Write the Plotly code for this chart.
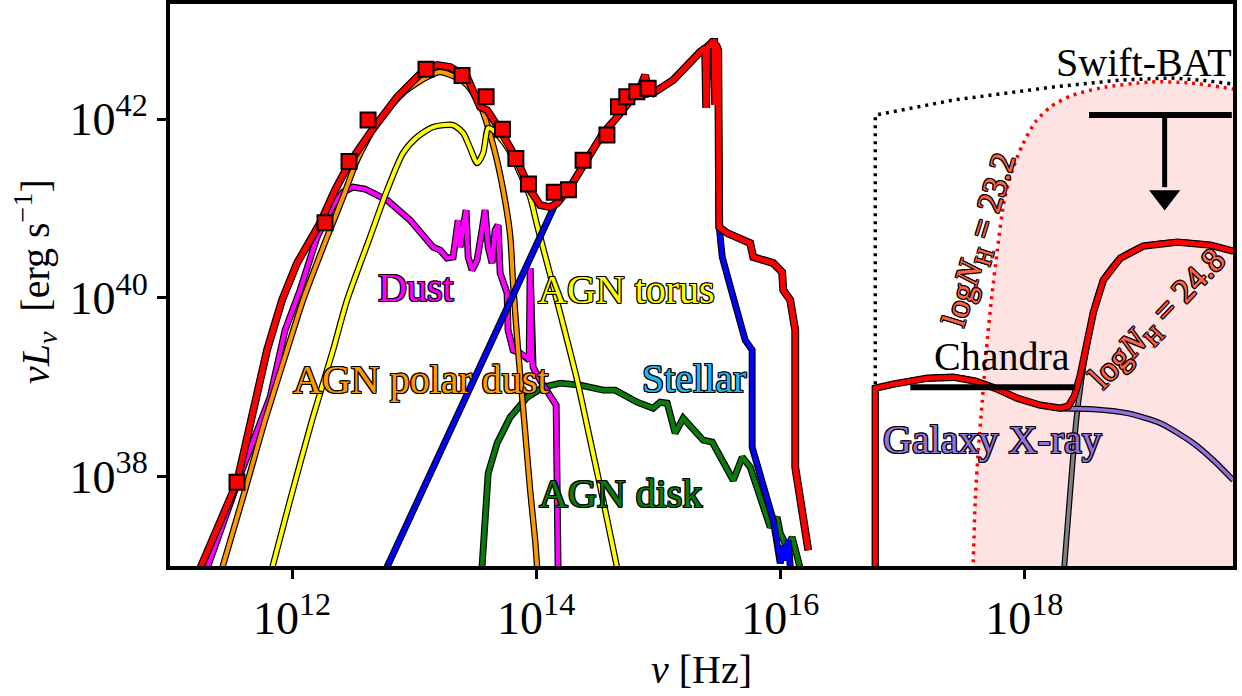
import numpy as np
import plotly.graph_objects as go

FONT = "Liberation Serif"

# ---------------- data (log10 nu [Hz], log10 nuL_nu [erg/s]) ----------------
PHOT_LOGNU = [11.549, 12.270, 12.467, 12.623, 13.098, 13.393, 13.590, 13.724, 13.834,
              13.937, 14.148, 14.265, 14.385, 14.580, 14.675, 14.743, 14.825, 14.918]
PHOT_LOGL = [37.938, 40.843, 41.527, 41.991, 42.559, 42.490, 42.252, 41.887, 41.562,
             41.275, 41.182, 41.211, 41.540, 41.823, 42.140, 42.252, 42.308, 42.346]

TOTAL_LOGNU = [11.240, 11.549, 11.795, 11.918, 12.041, 12.230, 12.352, 12.475, 12.656, 12.861,
               13.049, 13.189, 13.295, 13.434, 13.541, 13.598, 13.705, 13.844, 13.951, 14.033,
               14.115, 14.172, 14.279, 14.418, 14.549, 14.664, 14.795, 14.852, 14.893, 14.918,
               14.959, 15.123, 15.344, 15.385, 15.393, 15.402, 15.443, 15.459, 15.467, 15.475,
               15.492, 15.500, 15.566, 15.754, 15.779, 15.943, 16.016, 16.025, 16.082, 16.123,
               16.123, 16.230]
TOTAL_LOGL = [36.95, 37.938, 39.416, 39.976, 40.390, 40.838, 41.207, 41.521, 41.879, 42.249,
              42.506, 42.607, 42.585, 42.473, 42.137, 42.103, 41.879, 41.543, 41.207, 41.039,
              41.017, 41.062, 41.241, 41.543, 41.846, 42.025, 42.249, 42.350, 42.495, 42.327,
              42.294, 42.439, 42.753, 42.798, 42.126, 42.798, 42.865, 42.865, 42.159, 42.831,
              42.775, 40.793, 40.726, 40.614, 40.457, 40.390, 40.289, 40.088, 39.976, 39.640,
              38.106, 37.176]

STELLAR_LOGNU = [12.765, 14.172, 14.279, 14.418, 14.549, 14.664, 14.795, 14.959, 15.123, 15.344,
                 15.443, 15.475, 15.492, 15.500, 15.525, 15.615, 15.713, 15.770, 15.770, 15.943,
                 15.975, 16.000, 16.025, 16.049, 16.066, 16.085]
STELLAR_LOGL = [36.95, 41.095, 41.241, 41.543, 41.846, 42.025, 42.249, 42.294, 42.439, 42.753,
                42.865, 42.831, 42.775, 40.793, 40.457, 40.009, 39.528, 39.416, 38.330, 37.512,
                37.288, 37.030, 37.232, 37.064, 37.288, 36.95]

DUST_LOGNU = [11.298, 11.590, 11.820, 11.943, 12.066, 12.205, 12.336, 12.418, 12.500, 12.598,
              12.779, 12.967, 13.156, 13.213, 13.270, 13.320, 13.361, 13.377, 13.426, 13.443,
              13.475, 13.516, 13.557, 13.582, 13.607, 13.639, 13.664, 13.689, 13.705, 13.730,
              13.762, 13.770, 13.811, 13.869, 13.926, 13.943, 13.951, 13.967, 13.975, 14.033,
              14.164, 14.180]
DUST_LOGL = [36.95, 38.072, 38.890, 39.640, 40.088, 40.681, 41.039, 41.185, 41.241, 41.219,
             41.095, 40.871, 40.569, 40.535, 40.446, 40.457, 40.871, 40.569, 40.983, 40.457,
             40.312, 40.423, 40.759, 40.983, 40.569, 40.390, 40.759, 40.815, 40.278, 40.166,
             40.054, 39.640, 39.416, 39.382, 39.337, 39.304, 40.334, 39.304, 39.225, 39.080,
             38.800, 36.95]

POLAR_LOGNU = [11.422, 11.615, 11.779, 11.959, 12.090, 12.287, 12.418, 12.533, 12.697, 12.910,
               13.107, 13.213, 13.352, 13.434, 13.541, 13.648, 13.730, 13.787, 13.811, 13.852,
               13.902, 13.951, 13.992, 14.010]
POLAR_LOGL = [36.95, 37.848, 38.632, 39.416, 39.976, 40.681, 41.129, 41.543, 41.958, 42.294,
              42.473, 42.529, 42.462, 42.383, 42.159, 41.711, 41.207, 40.703, 40.166, 39.416,
              38.632, 37.848, 37.288, 36.95]

TORUS_LOGNU = [11.832, 11.984, 12.164, 12.336, 12.451, 12.639, 12.779, 12.910, 13.025, 13.156,
               13.320, 13.402, 13.459, 13.516, 13.566, 13.607, 13.648, 13.762, 13.869, 13.951,
               14.008, 14.090, 14.197, 14.336, 14.443, 14.549, 14.668]
TORUS_LOGL = [36.95, 37.736, 38.632, 39.416, 39.976, 40.681, 41.207, 41.622, 41.801, 41.913,
              41.935, 41.846, 41.678, 41.510, 41.622, 41.902, 41.879, 41.689, 41.398, 41.129,
              40.815, 40.390, 39.830, 39.080, 38.408, 37.736, 36.95]

DISK_LOGNU = [13.555, 13.582, 13.607, 13.680, 13.787, 13.926, 14.057, 14.197, 14.361, 14.549,
              14.648, 14.828, 14.959, 15.016, 15.074, 15.139, 15.205, 15.369, 15.443, 15.615,
              15.689, 15.754, 15.836, 15.918, 15.975, 16.000, 16.057, 16.098, 16.168]
DISK_LOGL = [36.95, 37.591, 38.038, 38.374, 38.665, 38.889, 39.001, 39.046, 39.024, 38.968,
             38.968, 38.833, 38.766, 38.833, 38.822, 38.486, 38.654, 38.408, 38.386, 37.960,
             38.218, 38.106, 37.770, 37.434, 37.546, 37.367, 37.210, 37.322, 36.95]

# X-ray models
XTOT_LOGNU = [16.779, 16.779, 16.926, 17.205, 17.418, 17.598, 17.762, 17.943, 18.131, 18.295,
              18.361, 18.410, 18.459, 18.516, 18.566, 18.648, 18.787, 18.975, 19.254, 19.525, 19.713]
XTOT_LOGL = [36.95, 38.990, 39.035, 39.102, 39.113, 39.069, 38.990, 38.878, 38.800, 38.766,
             38.789, 38.901, 39.136, 39.494, 39.841, 40.200, 40.446, 40.580, 40.625, 40.591, 40.524]

GALX_LOGNU = [16.779, 16.926, 17.205, 17.418, 17.598, 17.762, 17.943, 18.131, 18.295, 18.566,
              18.844, 19.115, 19.385, 19.549, 19.713]
GALX_LOGL = [38.990, 39.035, 39.102, 39.113, 39.069, 38.990, 38.878, 38.800, 38.766, 38.755,
             38.710, 38.598, 38.374, 38.184, 37.960]

AGNX_LOGNU = [18.325, 18.377, 18.426, 18.467, 18.516, 18.566, 18.648, 18.787, 18.975, 19.254,
              19.525, 19.713]
AGNX_LOGL = [36.95, 37.848, 38.632, 39.080, 39.494, 39.841, 40.200, 40.446, 40.580, 40.625,
             40.591, 40.524]

NH232_LOGNU = [17.580, 17.598, 17.623, 17.656, 17.689, 17.730, 17.779, 17.836, 17.902, 17.984,
               18.090, 18.213, 18.377, 18.623, 19.033, 19.361, 19.713]
NH232_LOGL = [36.95, 37.736, 38.296, 38.856, 39.416, 39.976, 40.535, 41.095, 41.431, 41.711,
              41.969, 42.137, 42.260, 42.350, 42.417, 42.406, 42.338]

INTR_LOGNU = [16.779, 16.779, 17.418, 18.238, 18.787, 19.197, 19.443, 19.713]
INTR_LOGL = [39.035, 42.047, 42.215, 42.361, 42.439, 42.462, 42.439, 42.394]

CHANDRA_LOGNU = [17.066, 18.418]
CHANDRA_LOGL = 39.001
BAT_LOGNU = [18.53, 19.70]
BAT_LOGL = 42.047
ARROW_LOGNU = 19.15
ARROW_TIP_LOGL = 41.04

X_TICKS = [12, 14, 16, 18]
Y_TICKS = [38, 40, 42]


def p(v):
    return 10 ** np.asarray(v, dtype=float)


fig = go.Figure()


def outlined(lx, ly, color, width, outline=1.2, shape="linear"):
    fig.add_trace(go.Scatter(x=p(lx), y=p(ly), mode="lines", hoverinfo="skip",
                             line=dict(color="black", width=width + 2 * outline,
                                       shape=shape, smoothing=0.7)))
    fig.add_trace(go.Scatter(x=p(lx), y=p(ly), mode="lines", hoverinfo="skip",
                             line=dict(color=color, width=width, shape=shape, smoothing=0.7)))


# pink absorbed-region fill
fx = list(NH232_LOGNU) + [19.9, 19.9, NH232_LOGNU[0]]
fy = list(NH232_LOGL) + [NH232_LOGL[-1], 36.5, 36.5]
fig.add_trace(go.Scatter(x=p(fx), y=p(fy), mode="lines", fill="toself",
                         fillcolor="rgba(255,0,0,0.11)", line=dict(width=0, color="rgba(0,0,0,0)"),
                         hoverinfo="skip"))

# dotted lines
fig.add_trace(go.Scatter(x=p(INTR_LOGNU), y=p(INTR_LOGL), mode="lines", hoverinfo="skip",
                         line=dict(color="black", width=3.5, dash="3px,5px")))
fig.add_trace(go.Scatter(x=p(NH232_LOGNU), y=p(NH232_LOGL), mode="lines", hoverinfo="skip",
                         line=dict(color="red", width=3.5, dash="3px,5px",
                                   shape="spline", smoothing=0.7)))

# SED components
outlined(DISK_LOGNU, DISK_LOGL, "#0a7a0a", 4.5)
outlined(DUST_LOGNU, DUST_LOGL, "#ff00ff", 4.5)
outlined(POLAR_LOGNU, POLAR_LOGL, "#ff9900", 4, shape="spline")
outlined(TORUS_LOGNU, TORUS_LOGL, "#ffff00", 4, shape="spline")
outlined(STELLAR_LOGNU, STELLAR_LOGL, "#0000ff", 4.5)
outlined(TOTAL_LOGNU, TOTAL_LOGL, "#ff0000", 5.5)

# X-ray
outlined(AGNX_LOGNU, AGNX_LOGL, "#808080", 3.5, shape="spline")
outlined(GALX_LOGNU, GALX_LOGL, "#9370db", 3.5, shape="spline")
outlined(XTOT_LOGNU, XTOT_LOGL, "#ff0000", 5)

# Chandra and BAT
fig.add_trace(go.Scatter(x=p(CHANDRA_LOGNU), y=p([CHANDRA_LOGL] * 2), mode="lines",
                         line=dict(color="black", width=6), hoverinfo="skip"))
fig.add_trace(go.Scatter(x=p(BAT_LOGNU), y=p([BAT_LOGL] * 2), mode="lines",
                         line=dict(color="black", width=6), hoverinfo="skip"))
fig.add_trace(go.Scatter(x=p([ARROW_LOGNU, ARROW_LOGNU]), y=p([BAT_LOGL, ARROW_TIP_LOGL + 0.2]),
                         mode="lines", line=dict(color="black", width=5), hoverinfo="skip"))
fig.add_trace(go.Scatter(x=p([ARROW_LOGNU]), y=p([ARROW_TIP_LOGL + 0.09]), mode="markers",
                         marker=dict(symbol="triangle-down", size=27, color="black"),
                         hoverinfo="skip"))

# photometry
fig.add_trace(go.Scatter(x=p(PHOT_LOGNU), y=p(PHOT_LOGL), mode="markers", hoverinfo="skip",
                         marker=dict(symbol="square", size=15, color="red",
                                     line=dict(color="black", width=2))))

SH = ("1px 1px 0 #000, -1px -1px 0 #000, 1px -1px 0 #000, -1px 1px 0 #000, "
      "1px 0 0 #000, -1px 0 0 #000, 0 1px 0 #000, 0 -1px 0 #000")


def label(text, lx, ly, color, size=40, angle=0, shadow=True):
    font = dict(family=FONT, size=size, color=color)
    if shadow:
        font["shadow"] = SH
    fig.add_annotation(x=lx, y=ly, xref="x", yref="y", text=text, showarrow=False,
                       textangle=angle, xanchor="center", yanchor="middle", font=font)


label("Dust", 13.016, 40.12, "#ff00ff")
label("AGN torus", 14.738, 40.10, "#ffff00")
label("AGN polar dust", 13.057, 39.09, "#ff9900")
label("Stellar", 15.295, 39.10, "#1eb4f0")
label("AGN disk", 14.689, 37.81, "#0a7a0a")
label("Galaxy X-ray", 17.738, 38.42, "#9370db")
label("Chandra", 17.820, 39.34, "black", shadow=False)
label("Swift-BAT", 18.984, 42.64, "black", shadow=False)
label("log<i>N</i><sub>H</sub> = 23.2", 17.645, 40.648, "#ff6347", size=34, angle=-73)
label("log<i>N</i><sub>H</sub> = 24.8", 19.098, 39.752, "#ff6347", size=34, angle=-46)

# axis titles
fig.add_annotation(xref="paper", yref="paper", x=0.5, y=-0.185, showarrow=False,
                   text="<i>ν</i> [Hz]", xanchor="center", yanchor="middle",
                   font=dict(family=FONT, size=40, color="black"))
fig.add_annotation(xref="paper", yref="paper", x=-0.127, y=0.507, showarrow=False,
                   text="<i>νL</i><sub><i>ν</i></sub>\u00a0\u00a0[erg s<sup>−1</sup>]", textangle=-90,
                   xanchor="center", yanchor="middle",
                   font=dict(family=FONT, size=40, color="black"))

fig.update_layout(
    width=1242, height=696, showlegend=False,
    margin=dict(l=170, r=9, t=4, b=130),
    paper_bgcolor="white", plot_bgcolor="white",
    xaxis=dict(type="log", range=[11.0, 19.71], showgrid=False, zeroline=False, automargin=False,
               showline=True, linecolor="black", linewidth=4, mirror=True,
               ticks="outside", ticklen=9, tickwidth=2.5, tickcolor="black",
               tickvals=[10.0 ** t for t in X_TICKS],
               ticktext=[f"10<sup>{t}</sup>" for t in X_TICKS],
               tickfont=dict(family=FONT, size=46, color="black")),
    yaxis=dict(type="log", range=[37.0, 43.29], showgrid=False, zeroline=False, automargin=False,
               showline=True, linecolor="black", linewidth=4, mirror=True,
               ticks="outside", ticklen=9, tickwidth=2.5, tickcolor="black",
               tickvals=[10.0 ** t for t in Y_TICKS],
               ticktext=[f"10<sup>{t}</sup>" for t in Y_TICKS],
               tickfont=dict(family=FONT, size=46, color="black")),
)

fig.write_html("out.html", config={"displayModeBar": False},
               post_script="document.body.style.margin='0';document.body.style.padding='0';"
                           "document.body.style.overflow='hidden';")
